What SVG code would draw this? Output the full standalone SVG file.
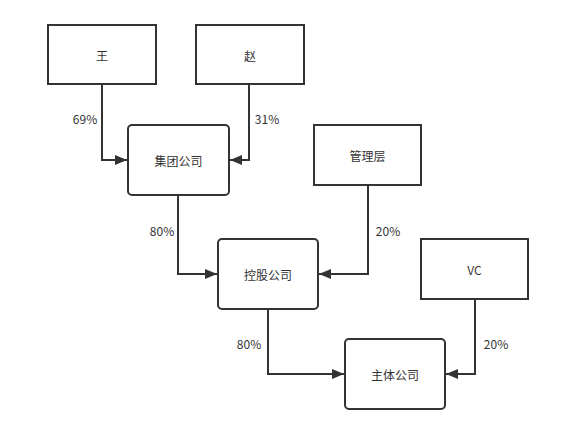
<svg xmlns="http://www.w3.org/2000/svg" width="581" height="434" viewBox="0 0 581 434">
<defs>
<marker id="arr" viewBox="0 0 12 10" refX="12" refY="5" markerWidth="12" markerHeight="10" markerUnits="userSpaceOnUse" orient="auto">
<path d="M0,0 L12,5 L0,10 Z" fill="#333"/>
</marker>
<style>
.box{fill:#fff;stroke:#333;stroke-width:2}
.t{font-family:"Noto Sans CJK SC","Liberation Sans",sans-serif;font-size:12px;fill:#333;text-anchor:middle;dominant-baseline:central}
.c{fill:none;stroke:#333;stroke-width:2;marker-end:url(#arr)}
</style>
</defs>
<rect width="581" height="434" fill="#fff"/>
<g id="connectors">
<path class="c" d="M102,84 V160 H127"/>
<path class="c" d="M249,84 V160 H230"/>
<path class="c" d="M178,195 V274 H217"/>
<path class="c" d="M368,185 V274 H319"/>
<path class="c" d="M268,309 V374 H344"/>
<path class="c" d="M475,299 V374 H446"/>
<text class="t" x="85" y="118">69%</text>
<text class="t" x="267" y="118">31%</text>
<text class="t" x="162" y="230">80%</text>
<text class="t" x="388" y="230">20%</text>
<text class="t" x="249" y="343">80%</text>
<text class="t" x="496" y="343">20%</text>
</g>
<g id="wang"><rect class="box" x="48" y="25" width="108" height="59"/><text class="t" x="102" y="55">王</text></g>
<g id="zhao"><rect class="box" x="196" y="25" width="108" height="59"/><text class="t" x="250" y="55">赵</text></g>
<g id="jituan"><rect class="box" x="128" y="125" width="101" height="70" rx="4"/><text class="t" x="178.5" y="160">集团公司</text></g>
<g id="guanli"><rect class="box" x="314" y="125" width="107" height="60"/><text class="t" x="367.5" y="155">管理层</text></g>
<g id="konggu"><rect class="box" x="218" y="239" width="100" height="70" rx="4"/><text class="t" x="268" y="274">控股公司</text></g>
<g id="vc"><rect class="box" x="421" y="239" width="107" height="60"/><text class="t" x="474.5" y="269">VC</text></g>
<g id="zhuti"><rect class="box" x="345" y="339" width="100" height="70" rx="4"/><text class="t" x="395" y="374">主体公司</text></g>
</svg>
